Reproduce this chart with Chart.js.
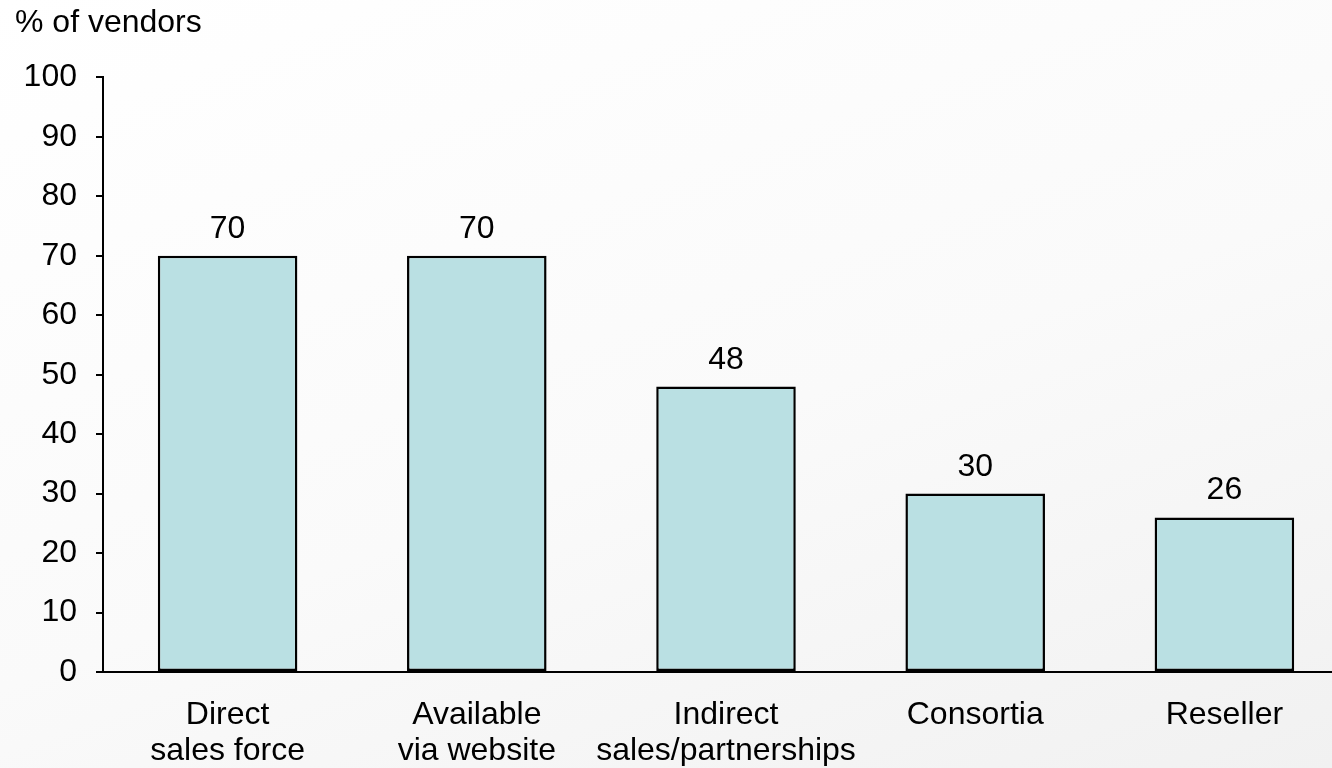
<!DOCTYPE html>
<html>
<head>
<meta charset="utf-8">
<script src="https://cdn.jsdelivr.net/npm/chart.js@4"></script>
<style>
  html, body { margin: 0; padding: 0; overflow: hidden; }
  body { width: 1332px; height: 768px; background: linear-gradient(160deg, #ffffff 0%, #fafafa 55%, #f1f1f1 100%); }
  #wrap { width: 1352px; height: 768px; }
</style>
</head>
<body>
<div id="wrap"><canvas id="chart"></canvas></div>
<script>
const categories = [
    ['Direct', 'sales force'],
    ['Available', 'via website'],
    ['Indirect', 'sales/partnerships'],
    'Consortia',
    'Reseller'
];
const vendorShare = [70, 70, 48, 30, 26];
const yTicks = [0, 10, 20, 30, 40, 50, 60, 70, 80, 90, 100];

const FONT = 'Liberation Sans, Arial, sans-serif';
const SIZE = 32;

// values above each bar
const valueLabels = {
    id: 'valueLabels',
    afterDatasetsDraw(chart) {
        const ctx = chart.ctx;
        const meta = chart.getDatasetMeta(0);
        ctx.save();
        ctx.font = SIZE + 'px ' + FONT;
        ctx.fillStyle = '#000';
        ctx.textAlign = 'center';
        ctx.textBaseline = 'alphabetic';
        meta.data.forEach((bar, i) => {
            ctx.fillText(vendorShare[i], bar.x, bar.y - 18);
        });
        ctx.restore();
    }
};

new Chart(document.getElementById('chart'), {
    type: 'bar',
    data: {
        labels: categories,
        datasets: [{
            data: vendorShare,
            backgroundColor: '#bae0e3',
            borderColor: '#000',
            borderWidth: 2.5,
            borderSkipped: false,
            barPercentage: 0.56,
            categoryPercentage: 1
        }]
    },
    options: {
        responsive: true,
        maintainAspectRatio: false,
        animation: false,
        layout: { padding: { left: 15, top: 0, right: 3, bottom: 2 } },
        plugins: {
            legend: { display: false },
            tooltip: { enabled: false },
            title: {
                display: true,
                text: '% of vendors',
                align: 'start',
                color: '#000',
                font: { family: FONT, size: SIZE, weight: 'normal', lineHeight: 1.2 },
                padding: { top: 4, bottom: 35 }
            }
        },
        scales: {
            x: {
                afterFit(scale) { scale.height = 94; },
                grid: { display: false, drawTicks: false },
                border: { display: true, color: '#000', width: 2 },
                ticks: {
                    color: '#000',
                    padding: 26,
                    maxRotation: 0,
                    autoSkip: false,
                    font: { family: FONT, size: SIZE, lineHeight: 1.1 }
                }
            },
            y: {
                min: 0,
                max: 100,
                afterFit(scale) { scale.width = 88; },
                afterBuildTicks(scale) { scale.ticks = yTicks.map(v => ({ value: v })); },
                grid: { drawOnChartArea: false, drawTicks: true, tickLength: 7, color: '#000', lineWidth: 2 },
                border: { display: true, color: '#000', width: 2 },
                ticks: {
                    color: '#000',
                    padding: 19,
                    font: { family: FONT, size: SIZE }
                }
            }
        }
    },
    plugins: [valueLabels]
});
</script>
</body>
</html>
